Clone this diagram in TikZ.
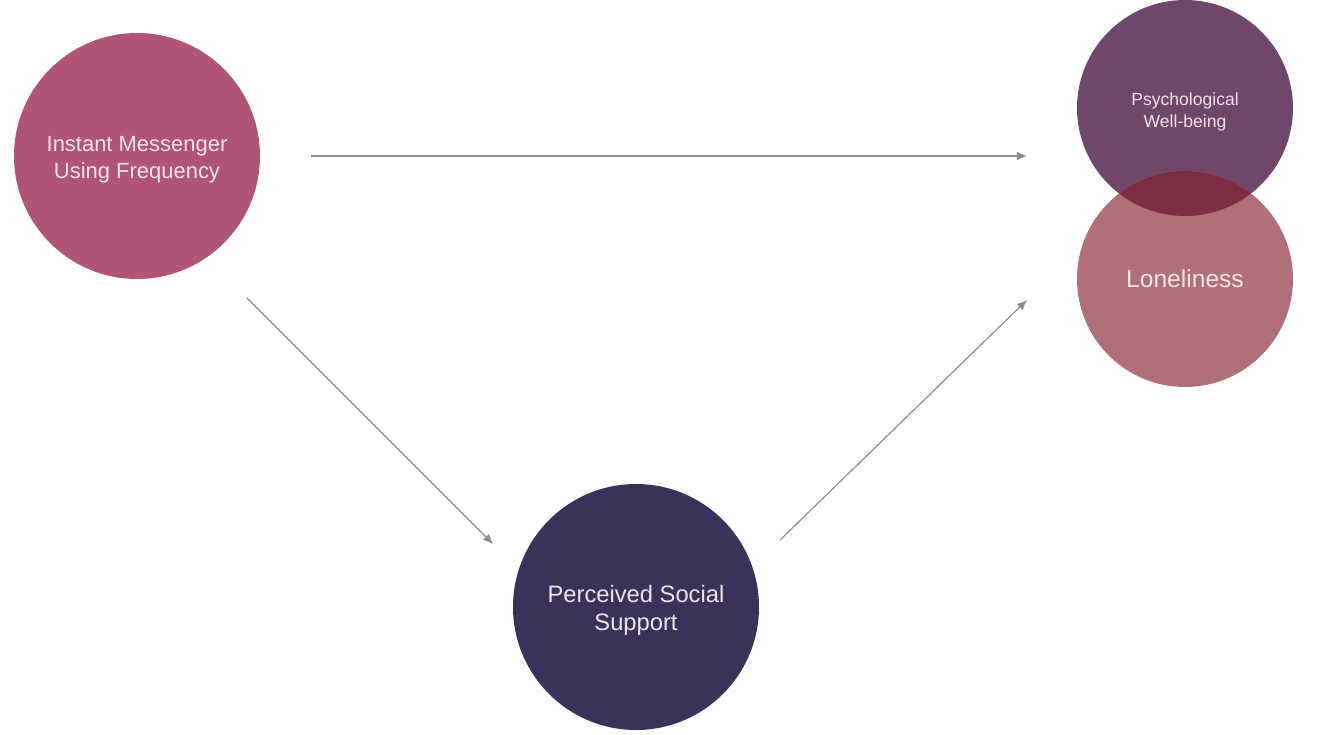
\documentclass[tikz,border=0pt]{standalone}
\usepackage{fontspec}
\setmainfont{Liberation Sans}
\usepackage{tikz}
\usetikzlibrary{arrows, arrows.meta, positioning, calc}
\definecolor{imcol}{HTML}{B05578}
\definecolor{pwbcol}{HTML}{70466A}
\definecolor{loncol}{HTML}{B07078}
\definecolor{overlapcol}{HTML}{7E2E44}
\definecolor{psscol}{HTML}{3B325C}
\definecolor{txtcol}{HTML}{F2E2EA}
\definecolor{arrcol}{HTML}{8A8A8A}
\tikzstyle{var} = [circle, draw=none, text=txtcol, align=center, inner sep=0pt]
\tikzstyle{big} = [var, minimum size=4.92cm, font=\fontsize{12.5}{15.5}\selectfont]
\tikzstyle{small} = [var, minimum size=4.32cm]
\tikzstyle{label} = [text=txtcol, align=center, yshift=-0.07cm]
\tikzstyle{line} = [draw=arrcol, line width=0.65pt, -{Latex[length=0.2cm, width=0.17cm]}]

\begin{document}
\begin{tikzpicture}
    \useasboundingbox (0,0) rectangle (26.4,-14.7);
    %%% Variables:
    \node[big, fill=imcol] (im) at (2.74,-3.12) {};
    \node[big, fill=psscol] (pss) at (12.72,-12.14) {};
    \node[small, fill=pwbcol] (pwb) at (23.7,-2.16) {};
    \node[small, fill=loncol] (lon) at (23.7,-5.58) {};
    %%% Overlap:
    \begin{scope}
      \clip (pwb.center) circle (2.16cm);
      \fill[overlapcol] (lon.center) circle (2.16cm);
    \end{scope}
    %%% Labels:
    \node[label, font=\fontsize{12.5}{15.5}\selectfont] (imtxt) at (im.center) {Instant Messenger\\Using Frequency};
    \node[label, font=\fontsize{13.5}{16}\selectfont] (psstxt) at (pss.center) {Perceived Social\\Support};
    \node[label, font=\fontsize{10}{12.5}\selectfont] (pwbtxt) at (pwb.center) {Psychological\\Well-being};
    \node[label, yshift=0.07cm, font=\fontsize{14}{16}\selectfont] (lontxt) at (lon.center) {Loneliness};
    %%% Paths:
    \coordinate (a1s) at (6.22,-3.12); \coordinate (a1e) at (20.54,-3.12);
    \coordinate (a2s) at (4.94,-5.96); \coordinate (a2e) at (9.86,-10.88);
    \coordinate (a3s) at (15.6,-10.8); \coordinate (a3e) at (20.54,-6.0);
    \path [line] (a1s) -- (a1e); \path [line] (a2s) -- (a2e);
    \path [line] (a3s) -- (a3e);
  \end{tikzpicture}
\end{document}
